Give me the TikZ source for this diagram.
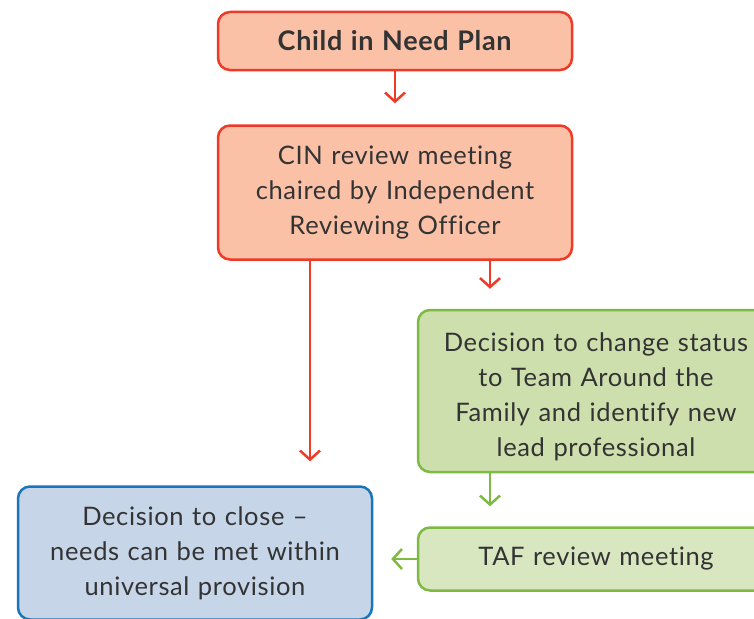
\documentclass[tikz,border=0pt]{standalone}
\usepackage{fontspec}
\setmainfont{Lato}[LetterSpace=2.5,Ligatures=NoCommon]
\usetikzlibrary{positioning,arrows.meta}
\definecolor{cinred}{HTML}{EE3A26}
\definecolor{cinfill}{HTML}{FBC1A7}
\definecolor{tafgreen}{HTML}{7DB943}
\definecolor{taffill}{HTML}{CDDFAD}
\definecolor{taflight}{HTML}{D9E7C1}
\definecolor{closeblue}{HTML}{1B75BB}
\definecolor{closefill}{HTML}{C6D5E8}
\definecolor{ink}{HTML}{333333}
\tikzset{
  box/.style={draw, line width=2.5pt, rounded corners=12pt, align=center,
    text=ink, font=\fontsize{25.5}{35}\selectfont, text width=340pt},
  redbox/.style={box, draw=cinred, fill=cinfill},
  greenbox/.style={box, draw=tafgreen, fill=taffill},
  bluebox/.style={box, draw=closeblue, fill=closefill},
  flow/.style={line width=2.5pt, -{Straight Barb[length=9pt,width=20pt]}}
}

\begin{document}
\begin{tikzpicture}[x=1pt,y=-1pt]
  \useasboundingbox (0,0) rectangle (754,618);
  \node [redbox, minimum width=354pt, minimum height=58pt] (plan) at (395,41) {\fontsize{27}{35}\selectfont\textbf{Child in Need Plan}};
  \node [redbox, minimum width=354pt, minimum height=134pt] (cin) [below=53pt of plan] {CIN review meeting\\chaired by Independent\\Reviewing Officer};
  \node [greenbox, minimum width=356pt, minimum height=162pt] (status) at (596,391) {\rule{0pt}{30pt}Decision to change status\\to Team Around the\\Family and identify new\\lead professional};
  \node [greenbox, fill=taflight, minimum width=356pt, minimum height=63pt] (taf) [below=53pt of status] {TAF review meeting};
  \node [bluebox, minimum width=354pt, minimum height=133pt] (close) at (195,553) {Decision to close --\\needs can be met within\\universal provision};
    \path[flow, color=cinred]
    (plan) edge [shorten >=21pt] (cin)
    ([xshift=95pt]cin.south) edge [shorten >=20pt] ([xshift=95pt]cin.south |- status.north)
    ([xshift=-85pt]cin.south) edge [shorten >=24pt] ([xshift=-85pt]cin.south |- close.north);
    \path[flow, color=tafgreen]
    ([xshift=-106pt]status.south) edge [shorten >=20pt] ([xshift=-106pt]taf.north)
    (taf.west) edge [shorten >=18pt] (close.east |- taf.west);
\end{tikzpicture}
\end{document}
